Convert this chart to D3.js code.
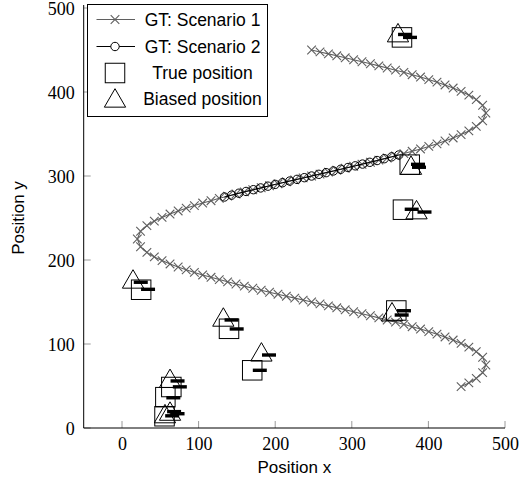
<!DOCTYPE html>
<html>
<head>
<meta charset="utf-8">
<script src="https://cdn.jsdelivr.net/npm/d3@7"></script>
<style>
  html, body { margin: 0; padding: 0; background: #fff; }
  svg { display: block; }
</style>
</head>
<body>
<svg id="chart" width="519" height="489"></svg>
<script>
// Ground-truth trajectory, scenario 1 (x, y)
const gt1X = [
  442.7, 452.8, 462.5, 470.8, 475.0,
  470.8, 462.5, 452.8, 442.7, 432.3, 421.7, 411.2, 400.5, 389.7, 378.8, 368.0,
  357.1, 346.2, 335.3, 324.3, 313.3, 302.4, 291.4, 280.4, 269.5, 258.5, 247.5,
  236.5, 225.5, 214.6, 203.6, 192.6, 181.7, 170.7, 159.7, 148.8, 137.9, 127.0,
  116.2, 105.3, 94.5, 83.8, 73.3, 62.7, 52.3, 42.2, 32.5, 24.2, 20.0,
  24.2, 32.5, 42.2, 52.3, 62.7, 73.3, 83.8, 94.5, 105.3, 116.2, 127.0,
  137.9, 148.8, 159.7, 170.7, 181.7, 192.6, 203.6, 214.6, 225.5, 236.5, 247.5,
  258.5, 269.5, 280.4, 291.4, 302.4, 313.3, 324.3, 335.3, 346.2, 357.1, 368.0,
  378.8, 389.7, 400.5, 411.2, 421.7, 432.3, 442.7, 452.8, 462.5, 470.8, 475.0,
  470.8, 462.5, 452.8, 442.7, 432.3, 421.7, 411.2, 400.5, 389.7, 378.8, 368.0,
  357.1, 346.2, 335.3, 324.3, 313.3, 302.4, 291.4, 280.4, 269.5, 258.5, 247.5
];
const gt1Y = [
  49.3, 53.7, 59.1, 65.9, 75.0,
  84.2, 90.9, 96.3, 100.7, 104.7, 108.4, 111.7, 114.8, 117.8, 120.6, 123.4,
  126.0, 128.6, 131.1, 133.6, 136.0, 138.4, 140.7, 143.1, 145.4, 147.7, 150.0,
  152.3, 154.6, 156.9, 159.3, 161.6, 164.0, 166.4, 168.9, 171.4, 174.0, 176.7,
  179.4, 182.2, 185.2, 188.3, 191.7, 195.3, 199.3, 203.7, 209.1, 215.8, 225.0,
  234.2, 240.9, 246.3, 250.7, 254.7, 258.4, 261.7, 264.8, 267.8, 270.6, 273.4,
  276.0, 278.6, 281.1, 283.6, 286.0, 288.4, 290.7, 293.1, 295.4, 297.7, 300.0,
  302.3, 304.6, 306.9, 309.3, 311.6, 314.0, 316.4, 318.9, 321.4, 324.0, 326.7,
  329.4, 332.2, 335.2, 338.3, 341.7, 345.3, 349.3, 353.7, 359.1, 365.8, 375.0,
  384.2, 390.9, 396.3, 400.7, 404.7, 408.4, 411.7, 414.8, 417.8, 420.6, 423.4,
  426.0, 428.6, 431.1, 433.6, 436.0, 438.4, 440.7, 443.1, 445.4, 447.7, 450.0
];

// Ground-truth trajectory, scenario 2 (x, y)
const gt2X = [
  133.8, 143.1, 152.6, 162.0, 171.5, 181.0, 190.5, 200.0, 209.5, 219.0, 228.5, 238.0, 247.5,
  257.0, 266.5, 276.0, 285.5, 295.0, 304.5, 314.0, 323.5, 333.0, 342.4, 352.0, 361.3
];
const gt2Y = [
  275.0, 277.2, 279.5, 281.6, 283.7, 285.8, 287.9, 290.0, 292.0, 294.0, 296.0, 298.0, 300.0,
  302.0, 304.0, 306.0, 308.0, 310.1, 312.1, 314.2, 316.3, 318.4, 320.6, 322.8, 325.0
];

// True positions
const trueX = [365.5, 375.6, 366.8, 358.1, 170.0, 139.7, 25.0, 64.4, 56.6, 55.5];
const trueY = [465.0, 313.5, 259.9, 139.9, 68.7, 118.1, 164.6, 48.8, 36.7, 14.0];

// Biased positions
const biasedX = [360.3, 377.3, 384.5, 352.5, 182.0, 132.3, 14.4, 62.7, 56.1, 62.7];
const biasedY = [467.0, 309.3, 256.3, 134.8, 87.0, 128.5, 173.8, 55.5, 13.5, 16.5];

// Estimates (short thick dashes)
const estX = [369.5, 376.0, 386.4, 387.7, 378.2, 394.9, 368.1, 365.1, 191.9, 179.9,
              143.0, 149.7, 24.5, 34.0, 72.5, 75.5, 67.0, 65.5, 68.0, 72.5];
const estY = [468.5, 465.0, 313.9, 310.4, 260.4, 257.1, 139.6, 134.5, 86.9, 68.7,
              128.6, 117.9, 173.5, 165.1, 56.0, 49.0, 36.0, 14.5, 19.5, 17.0];

const xTicks = [0, 100, 200, 300, 400, 500];
const yTicks = [0, 100, 200, 300, 400, 500];

const legendLabels = ["GT: Scenario 1", "GT: Scenario 2", "True position", "Biased position"];

(function draw() {
  const svg = d3.select("#chart");
  const mLeft = 83.7, mRight = 505, mTop = 8, mBottom = 428;

  const x = d3.scaleLinear().domain([-50, 500]).range([mLeft, mRight]);
  const y = d3.scaleLinear().domain([0, 500]).range([mBottom, mTop]);

  const gray = "#5f5f5f";
  const tickGray = "#9a9a9a";
  const serif = "'Liberation Serif', 'Times New Roman', serif";
  const sans = "'Liberation Sans', Arial, sans-serif";

  // Axes (labels from d3 axes, tick marks drawn inward)
  const xAxis = d3.axisBottom(x).tickValues(xTicks).tickSize(0).tickPadding(0);
  const yAxis = d3.axisLeft(y).tickValues(yTicks).tickSize(0).tickPadding(0);

  const gx = svg.append("g").attr("transform", `translate(0,${mBottom})`).call(xAxis);
  gx.select(".domain").remove();
  gx.selectAll("text")
    .attr("y", 16).attr("dy", "0.32em")
    .style("font-family", serif).style("font-size", "18px").attr("fill", "#000");

  const gy = svg.append("g").attr("transform", `translate(${mLeft},0)`).call(yAxis);
  gy.select(".domain").remove();
  gy.selectAll("text")
    .attr("x", -9).attr("dy", "0.36em")
    .style("font-family", serif).style("font-size", "18px").attr("fill", "#000");

  svg.append("g").selectAll("line").data(xTicks).join("line")
    .attr("x1", d => x(d)).attr("x2", d => x(d))
    .attr("y1", mBottom).attr("y2", mBottom - 7)
    .attr("stroke", tickGray).attr("stroke-width", 1);
  svg.append("g").selectAll("line").data(yTicks).join("line")
    .attr("y1", d => y(d)).attr("y2", d => y(d))
    .attr("x1", mLeft).attr("x2", mLeft + 7)
    .attr("stroke", tickGray).attr("stroke-width", 1);

  svg.append("line").attr("x1", mLeft).attr("x2", mRight).attr("y1", mBottom).attr("y2", mBottom)
    .attr("stroke", "#000").attr("stroke-width", 1);
  svg.append("line").attr("x1", mLeft).attr("x2", mLeft).attr("y1", mBottom).attr("y2", mTop - 3)
    .attr("stroke", "#000").attr("stroke-width", 1);

  // axis titles
  svg.append("text").attr("x", (mLeft + mRight) / 2).attr("y", 473)
    .attr("text-anchor", "middle")
    .style("font-family", sans).style("font-size", "17px")
    .text("Position x");
  svg.append("text")
    .attr("transform", `translate(24,${(mTop + mBottom) / 2}) rotate(-90)`)
    .attr("text-anchor", "middle")
    .style("font-family", sans).style("font-size", "17px")
    .text("Position y");

  // marker shapes
  const crossPath = s => `M${-s},${-s}L${s},${s}M${-s},${s}L${s},${-s}`;
  const triR = 12.3;
  const triPath = r => `M0,${-r}L${0.866 * r},${r / 2}L${-0.866 * r},${r / 2}Z`;
  const sq = 19.5;

  const plot = svg.append("g");

  // scenario 1
  const pts1 = d3.zip(gt1X, gt1Y);
  plot.append("path").datum(pts1)
    .attr("d", d3.line().x(d => x(d[0])).y(d => y(d[1])))
    .attr("fill", "none").attr("stroke", gray).attr("stroke-width", 1.1);
  plot.append("g").selectAll("path").data(pts1).join("path")
    .attr("transform", d => `translate(${x(d[0])},${y(d[1])})`)
    .attr("d", crossPath(4.3))
    .attr("fill", "none").attr("stroke", gray).attr("stroke-width", 1.1);

  // scenario 2
  const pts2 = d3.zip(gt2X, gt2Y);
  plot.append("path").datum(pts2)
    .attr("d", d3.line().x(d => x(d[0])).y(d => y(d[1])))
    .attr("fill", "none").attr("stroke", "#000").attr("stroke-width", 1);
  plot.append("g").selectAll("circle").data(pts2).join("circle")
    .attr("cx", d => x(d[0])).attr("cy", d => y(d[1])).attr("r", 4.2)
    .attr("fill", "none").attr("stroke", "#000").attr("stroke-width", 1);

  // true positions
  plot.append("g").selectAll("rect").data(d3.zip(trueX, trueY)).join("rect")
    .attr("x", d => x(d[0]) - sq / 2).attr("y", d => y(d[1]) - sq / 2)
    .attr("width", sq).attr("height", sq)
    .attr("fill", "none").attr("stroke", "#000").attr("stroke-width", 1);

  // biased positions
  plot.append("g").selectAll("path").data(d3.zip(biasedX, biasedY)).join("path")
    .attr("transform", d => `translate(${x(d[0])},${y(d[1])})`)
    .attr("d", triPath(triR))
    .attr("fill", "none").attr("stroke", "#000").attr("stroke-width", 1);

  // estimates
  plot.append("g").selectAll("line").data(d3.zip(estX, estY)).join("line")
    .attr("x1", d => x(d[0]) - 7).attr("x2", d => x(d[0]) + 7)
    .attr("y1", d => y(d[1])).attr("y2", d => y(d[1]))
    .attr("stroke", "#000").attr("stroke-width", 3.4);

  // legend
  const lg = svg.append("g");
  lg.append("rect").attr("x", 87.5).attr("y", 4.5).attr("width", 180).attr("height", 112)
    .attr("fill", "#fff").attr("stroke", "#000").attr("stroke-width", 1);
  const rowY = [19.5, 46.5, 73, 99];
  const symX = 115, lineX1 = 96.5, lineX2 = 135;
  lg.append("line").attr("x1", lineX1).attr("x2", lineX2).attr("y1", rowY[0]).attr("y2", rowY[0])
    .attr("stroke", gray).attr("stroke-width", 1.1);
  lg.append("path").attr("transform", `translate(${symX},${rowY[0]})`).attr("d", crossPath(4.3))
    .attr("fill", "none").attr("stroke", gray).attr("stroke-width", 1.1);
  lg.append("line").attr("x1", lineX1).attr("x2", lineX2).attr("y1", rowY[1]).attr("y2", rowY[1])
    .attr("stroke", "#000").attr("stroke-width", 1);
  lg.append("circle").attr("cx", symX).attr("cy", rowY[1]).attr("r", 4.2)
    .attr("fill", "#fff").attr("stroke", "#000").attr("stroke-width", 1);
  lg.append("rect").attr("x", symX - sq / 2).attr("y", rowY[2] - sq / 2).attr("width", sq).attr("height", sq)
    .attr("fill", "none").attr("stroke", "#000").attr("stroke-width", 1);
  lg.append("path").attr("transform", `translate(${symX},${rowY[3] + 2})`).attr("d", triPath(triR))
    .attr("fill", "none").attr("stroke", "#000").attr("stroke-width", 1);

  lg.selectAll("text.lbl").data(legendLabels).join("text")
    .attr("class", "lbl")
    .attr("x", 202.5).attr("y", (d, i) => rowY[i]).attr("dy", "0.35em")
    .attr("text-anchor", "middle")
    .style("font-family", sans).style("font-size", "17.5px")
    .text(d => d);
})();
</script>
</body>
</html>
